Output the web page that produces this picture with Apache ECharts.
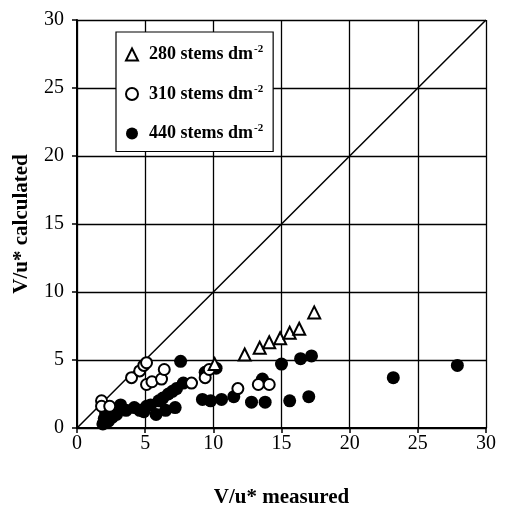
<!DOCTYPE html>
<html>
<head>
<meta charset="utf-8">
<script src="https://cdn.jsdelivr.net/npm/echarts@6/dist/echarts.min.js"></script>
<style>
body{margin:0;background:#fff;}
#main{width:525px;height:515px;}
</style>
</head>
<body>
<div id="main"></div>
<script>
// axis ticks (both axes)
var axisTicks = [0, 5, 10, 15, 20, 25, 30];

// 280 stems dm-2 : [measured, calculated]
var s280 = [[10.1,4.7],[12.3,5.4],[13.4,5.9],[14.1,6.3],[14.9,6.6],[15.6,7.0],[16.3,7.3],[17.4,8.5]];

// 310 stems dm-2
var s310 = [[1.8,2.0],[1.8,1.6],[2.4,1.6],[4.0,3.7],[4.6,4.2],[4.9,4.6],[5.1,4.8],[5.1,3.2],
    [5.5,3.4],[6.2,3.6],[6.4,4.3],[8.4,3.3],[9.4,3.7],[9.7,4.3],[11.8,2.9],[13.3,3.2],[14.1,3.2]];

// 440 stems dm-2
var s440 = [[1.9,0.3],[2.0,0.7],[2.1,1.1],[2.3,0.5],[2.6,0.8],[2.9,1.0],[3.2,1.7],[3.6,1.3],
    [4.2,1.5],[4.6,1.3],[4.9,1.2],[5.1,1.6],[5.4,1.7],[5.8,1.0],[6.0,2.0],[6.3,2.2],[6.5,1.3],
    [6.7,2.5],[7.0,2.7],[7.2,1.5],[7.3,2.9],[7.6,4.9],[7.8,3.3],[9.2,2.1],[9.4,4.1],[9.8,2.0],
    [10.2,4.4],[10.6,2.1],[11.5,2.3],[12.8,1.9],[13.6,3.6],[13.8,1.9],[15.0,4.7],[15.6,2.0],
    [16.4,5.1],[17.0,2.3],[17.2,5.3],[23.2,3.7],[27.9,4.6]];

// 1:1 line
var oneToOne = [[0,0],[30,30]];

var names = ['280 stems dm', '310 stems dm', '440 stems dm'];

var chart = echarts.init(document.getElementById('main'));
var serif = '"Liberation Serif", "DejaVu Serif", serif';

function axisCfg(name, gap, labelMargin) {
    return {
        type: 'value',
        min: axisTicks[0],
        max: axisTicks[axisTicks.length - 1],
        interval: axisTicks[1] - axisTicks[0],
        name: name,
        nameLocation: 'middle',
        nameGap: gap,
        nameTextStyle: {fontFamily: serif, fontWeight: 'bold', fontSize: 21, color: '#000'},
        axisLine: {show: true, onZero: false, lineStyle: {color: '#000', width: 2}},
        axisTick: {show: true, inside: false, length: 5, lineStyle: {color: '#000', width: 1.5}},
        axisLabel: {fontFamily: serif, fontSize: 20, color: '#000', margin: labelMargin},
        splitLine: {show: true, lineStyle: {color: '#000', width: 1.3}}
    };
}

var option = {
    backgroundColor: '#fff',
    animation: false,
    grid: {left: 77, right: 39, top: 20, bottom: 87},
    legend: {
        orient: 'vertical',
        left: 116,
        top: 32,
        padding: [12, 10, 9, 9],
        itemGap: 20,
        itemWidth: 12,
        itemHeight: 12,
        borderColor: '#000',
        borderWidth: 1.2,
        backgroundColor: '#fff',
        data: names,
        formatter: function (n) { return '{a|' + n + '}{s|-2}'; },
        textStyle: {
            rich: {
                a: {fontFamily: serif, fontWeight: 'bold', fontSize: 18, color: '#000', padding: [0, 0, 0, 6]},
                s: {fontFamily: serif, fontWeight: 'bold', fontSize: 11, color: '#000', padding: [0, 0, 10, 1]}
            }
        }
    },
    xAxis: axisCfg('V/u* measured', 59, 6),
    yAxis: axisCfg('V/u* calculated', 45, 13),
    series: [
        {
            name: '1:1',
            type: 'line',
            data: oneToOne,
            symbol: 'none',
            lineStyle: {color: '#000', width: 1.5},
            z: 1
        },
        {
            name: names[2],
            type: 'scatter',
            data: s440,
            symbol: 'circle',
            symbolSize: 13,
            itemStyle: {color: '#000', opacity: 1},
            z: 3
        },
        {
            name: names[1],
            type: 'scatter',
            data: s310,
            symbol: 'circle',
            symbolSize: 11,
            itemStyle: {color: '#fff', borderColor: '#000', borderWidth: 2, opacity: 1},
            z: 4
        },
        {
            name: names[0],
            type: 'scatter',
            data: s280,
            symbol: 'triangle',
            symbolSize: 12,
            itemStyle: {color: '#fff', borderColor: '#000', borderWidth: 2, opacity: 1},
            z: 5
        }
    ]
};
chart.setOption(option);
</script>
</body>
</html>
